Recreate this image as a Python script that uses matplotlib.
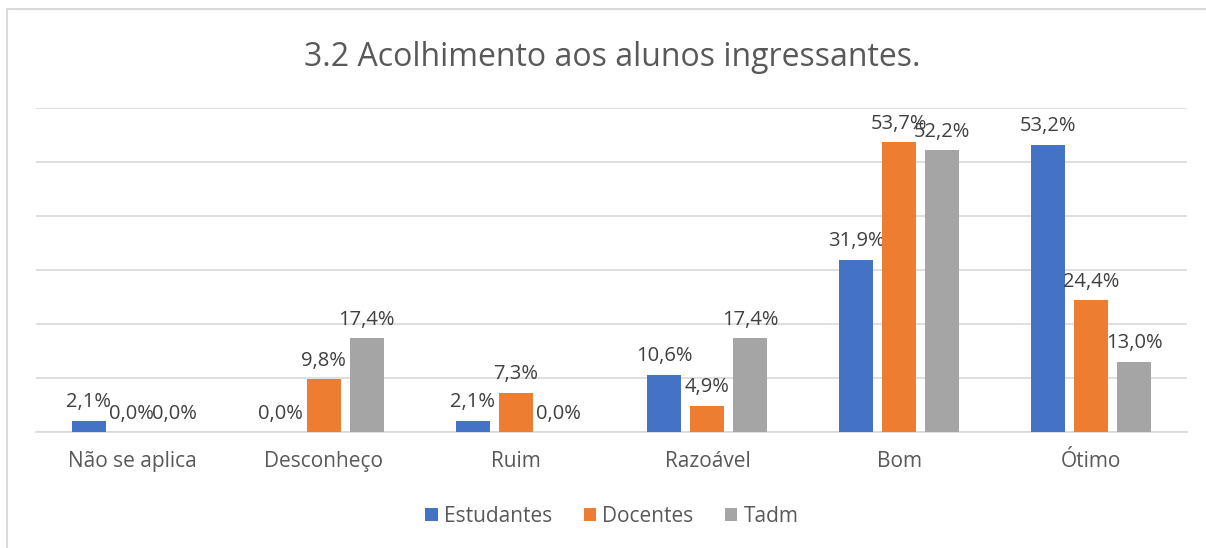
import numpy as np
import matplotlib.pyplot as plt
from matplotlib.patches import Rectangle

# data
categorias = ['Não se aplica', 'Desconheço', 'Ruim', 'Razoável', 'Bom', 'Ótimo']
estudantes = [2.1, 0.0, 2.1, 10.6, 31.9, 53.2]
docentes = [0.0, 9.8, 7.3, 4.9, 53.7, 24.4]
tadm = [0.0, 17.4, 0.0, 17.4, 52.2, 13.0]
series = ['Estudantes', 'Docentes', 'Tadm']
cores = ['#4472C4', '#ED7D31', '#A5A5A5']

plt.rcParams['font.family'] = ['Open Sans', 'DejaVu Sans']

fig = plt.figure(figsize=(12.06, 5.48), dpi=100)
ax = fig.add_axes([36 / 1206, 1 - 432 / 548, 1151 / 1206, 324 / 548])

# chart frame
fig.patches.append(Rectangle((7 / 1206, -0.1), 1.2, 1 - 9 / 548 + 0.1,
                             transform=fig.transFigure, fill=False,
                             edgecolor='#D9D9D9', linewidth=1.5))

x = np.arange(len(categorias))
w = 0.177
off = 0.224
for i, (vals, nome, cor) in enumerate(zip([estudantes, docentes, tadm], series, cores)):
    bars = ax.bar(x + (i - 1) * off, vals, w, color=cor, label=nome, zorder=3)
    for b, v in zip(bars, vals):
        ax.annotate(f'{v:.1f}%'.replace('.', ','),
                    (b.get_x() + b.get_width() / 2, v),
                    xytext=(0, 6), textcoords='offset points',
                    ha='center', va='bottom', fontsize=14.5, color='#404040')

ax.set_xlim(-0.5, len(categorias) - 0.5)
ax.set_ylim(0, 60)
ax.set_yticks(np.arange(0, 61, 10))
ax.yaxis.grid(True, color='#D9D9D9', linewidth=1.2, zorder=0)
ax.tick_params(axis='y', left=False, labelleft=False)
ax.tick_params(axis='x', length=0, pad=14, labelsize=15, labelcolor='#595959')
ax.set_xticks(x)
ax.set_xticklabels(categorias)
for s in ['top', 'right', 'left']:
    ax.spines[s].set_visible(False)
ax.spines['bottom'].set_color('#D9D9D9')
ax.spines['bottom'].set_linewidth(1.2)

fig.text(612 / 1206, 1 - 57 / 548, '3.2 Acolhimento aos alunos ingressantes.',
         ha='center', va='center', fontsize=23, color='#595959')

fig.legend(loc='center', bbox_to_anchor=(612 / 1206, 1 - 516 / 548), ncol=3,
           frameon=False, fontsize=15, handlelength=0.6, handleheight=0.6,
           handletextpad=0.3, columnspacing=1.5, labelcolor='#595959')

fig.savefig('out.png', dpi=100)
